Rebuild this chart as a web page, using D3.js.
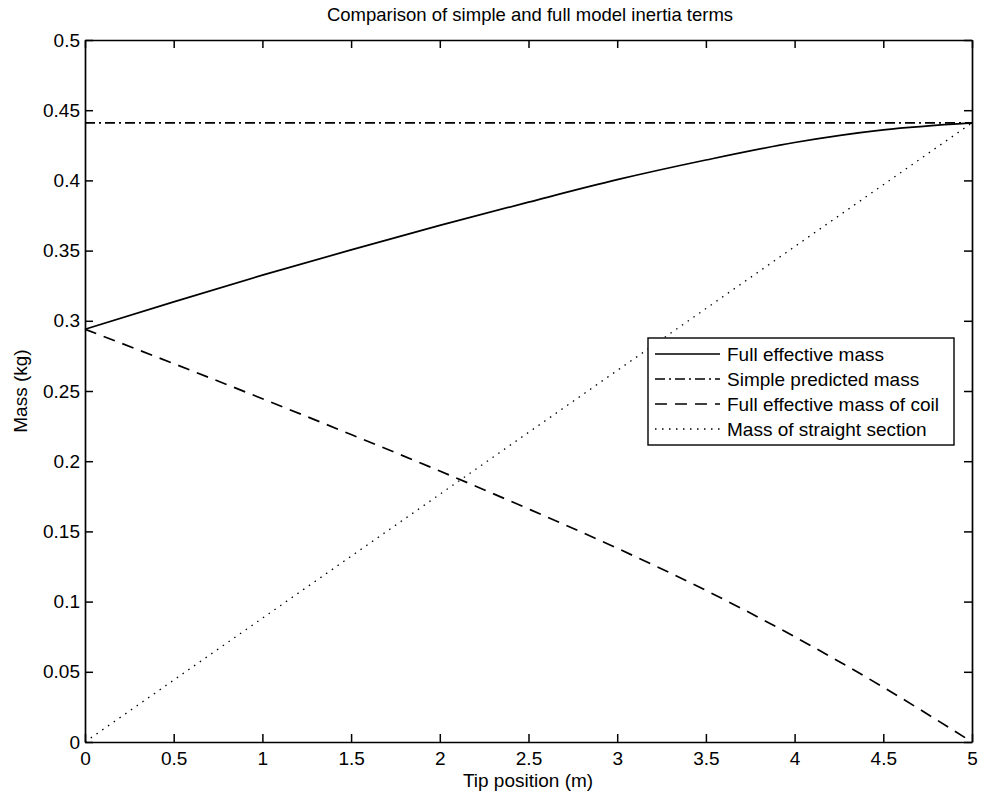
<!DOCTYPE html>
<html><head><meta charset="utf-8">
<script src="https://cdn.jsdelivr.net/npm/d3@7"></script>
<style>body{margin:0;background:#fff}text{font-family:"Liberation Sans",Arial,sans-serif;fill:#000}</style>
</head><body><svg id="c" width="983" height="800"></svg>
<script>
const title = "Comparison of simple and full model inertia terms";
const xLabel = "Tip position (m)";
const yLabel = "Mass (kg)";
const xTicks = [0,0.5,1,1.5,2,2.5,3,3.5,4,4.5,5];
const yTicks = [0,0.05,0.1,0.15,0.2,0.25,0.3,0.35,0.4,0.45,0.5];
const tipPos = [0,0.5,1,1.5,2,2.5,3,3.5,4,4.5,5];
const fullMass = [0.294,0.3135,0.3325,0.3505,0.368,0.3845,0.4005,0.4145,0.427,0.436,0.441];
const simpleMass = [0.441,0.441,0.441,0.441,0.441,0.441,0.441,0.441,0.441,0.441,0.441];
const coilMass = [0.294,0.2695,0.2445,0.219,0.193,0.166,0.138,0.108,0.075,0.039,0];
const straightMass = [0,0.0441,0.0882,0.1323,0.1764,0.2205,0.2646,0.3087,0.3528,0.3969,0.441];
const seriesNames = ["Full effective mass","Simple predicted mass","Full effective mass of coil","Mass of straight section"];
const dashes = [null,"10,4,2,4","12,8","1.5,5.5"];
const seriesVals = [fullMass,simpleMass,coilMass,straightMass];

const svg = d3.select("#c");
const L=85,R=972,T=40,B=742;
const x = d3.scaleLinear().domain([0,5]).range([L,R]);
const y = d3.scaleLinear().domain([0,0.5]).range([B,T]);
const fmt = d => String(+d.toFixed(2));
const FS = "19px";

const g = svg.append("g");
const line = d3.line().x((d,i)=>x(tipPos[i])).y(d=>y(d)).curve(d3.curveMonotoneX);
seriesVals.forEach((vals,k)=>{
  g.append("path").attr("d",line(vals)).attr("fill","none").attr("stroke","#000")
   .attr("stroke-width",k===3?1.3:1.7).attr("stroke-dasharray",dashes[k]);
});

const ax = (gen, tx, ty) => svg.append("g").attr("transform",`translate(${tx},${ty})`).call(gen);
const styleAxis = (sel, showLabels) => {
  sel.select(".domain").attr("stroke","#000").attr("stroke-width",1.7);
  sel.selectAll(".tick line").attr("stroke","#000").attr("stroke-width",1.5);
  sel.selectAll(".tick text").style("font-size",FS).style("font-family","'Liberation Sans',Arial,sans-serif");
  if(!showLabels) sel.selectAll(".tick text").remove();
};
styleAxis(ax(d3.axisBottom(x).tickValues(xTicks).tickSize(-8).tickPadding(10).tickFormat(fmt).tickSizeOuter(0),0,B),true);
styleAxis(ax(d3.axisTop(x).tickValues(xTicks).tickSize(-8).tickSizeOuter(0),0,T),false);
styleAxis(ax(d3.axisLeft(y).tickValues(yTicks).tickSize(-8).tickPadding(5).tickFormat(fmt).tickSizeOuter(0),L,0),true);
styleAxis(ax(d3.axisRight(y).tickValues(yTicks).tickSize(-8).tickSizeOuter(0),R,0),false);

svg.append("text").attr("x",530).attr("y",21).attr("text-anchor","middle").style("font-size","18.5px").text(title);
svg.append("text").attr("x",528).attr("y",787).attr("text-anchor","middle").style("font-size",FS).text(xLabel);
svg.append("text").attr("transform",`translate(27,${(T+B)/2}) rotate(-90)`).attr("text-anchor","middle").style("font-size",FS).text(yLabel);

const lg = svg.append("g");
lg.append("rect").attr("x",648).attr("y",338).attr("width",306).attr("height",107).attr("fill","#fff").attr("stroke","#000").attr("stroke-width",1.4);
seriesNames.forEach((n,k)=>{
  const yy = 354 + k*25;
  lg.append("line").attr("x1",655).attr("x2",720).attr("y1",yy).attr("y2",yy).attr("stroke","#000")
    .attr("stroke-width",k===3?1.3:1.7).attr("stroke-dasharray",dashes[k]);
  lg.append("text").attr("x",727).attr("y",yy+7).style("font-size",FS).text(n);
});
</script></body></html>
